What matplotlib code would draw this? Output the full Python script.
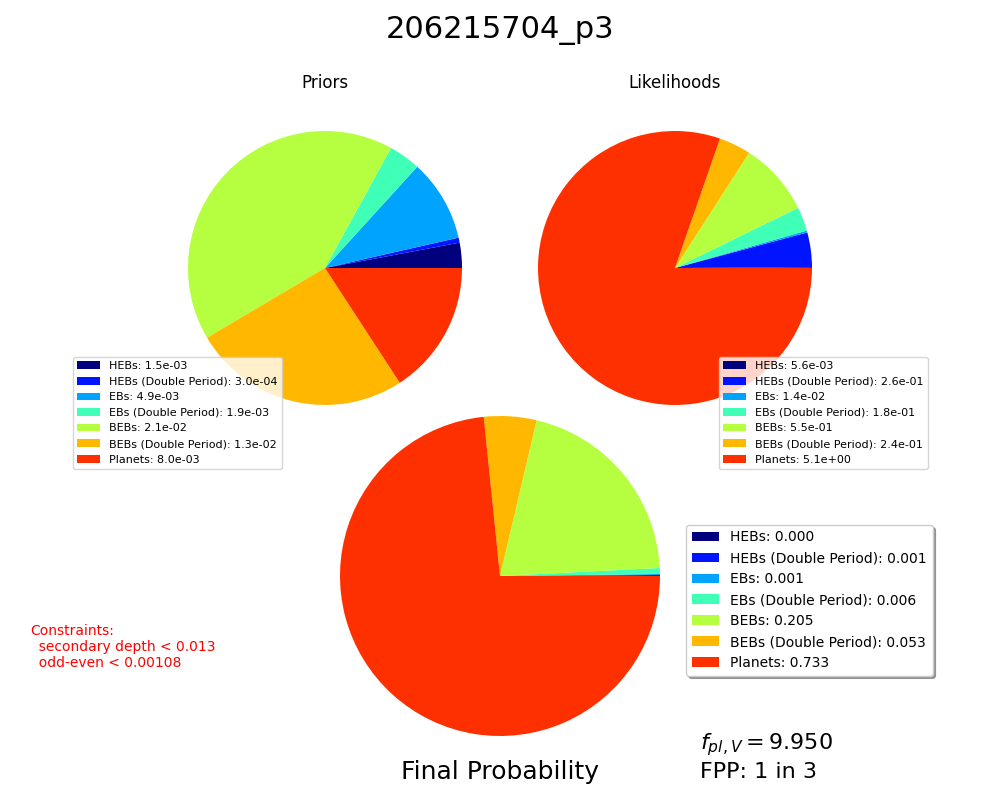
import matplotlib
matplotlib.use('Agg')
import matplotlib.pyplot as plt

TITLE = '206215704_p3'

models = ['HEBs', 'HEBs (Double Period)', 'EBs', 'EBs (Double Period)',
          'BEBs', 'BEBs (Double Period)', 'Planets']
colors = ['#00007f', '#0014ff', '#00a4ff', '#40ffb6', '#b6ff40', '#ffb700', '#ff3000']

priors = [1.5e-3, 3.0e-4, 4.9e-3, 1.9e-3, 2.1e-2, 1.3e-2, 8.0e-3]
lhoods = [5.6e-3, 2.6e-1, 1.4e-2, 1.8e-1, 5.5e-1, 2.4e-1, 5.1e+00]
probs = [0.000, 0.001, 0.001, 0.006, 0.205, 0.053, 0.733]

fpl = 9.950
fpp_inv = 3
constraints = ['secondary depth < 0.013', 'odd-even < 0.00108']

W, H = 1000., 800.


def pie_axes(fig, cx, cy, r):
    # square axes so that a unit pie has radius r pixels (pie limits are +-1.25)
    side = 2.5 * r
    return fig.add_axes([(cx - side / 2) / W, (H - cy - side / 2) / H, side / W, side / H])


fig = plt.figure(figsize=(10, 8), dpi=100)
fig.suptitle(TITLE, fontsize=22, y=0.98)

# priors
ax1 = pie_axes(fig, 325, 268, 137)
ax1.pie(priors, colors=colors)
ax1.set_title('Priors')
ax1.legend(['%s: %.1e' % (m, v) for m, v in zip(models, priors)], fontsize=8, borderaxespad=0,
           loc='upper left', bbox_to_anchor=(0.073, 0.554), bbox_transform=fig.transFigure)

# likelihoods
ax2 = pie_axes(fig, 675, 268, 137)
ax2.pie(lhoods, colors=colors)
ax2.set_title('Likelihoods')
ax2.legend(['%s: %.1e' % (m, v) for m, v in zip(models, lhoods)], fontsize=8, borderaxespad=0,
           loc='upper left', bbox_to_anchor=(0.719, 0.554), bbox_transform=fig.transFigure)

# final probability
ax3 = pie_axes(fig, 500, 576, 160)
ax3.pie(probs, colors=colors)
ax3.legend(['%s: %.3f' % (m, v) for m, v in zip(models, probs)], fontsize=10, shadow=True,
           borderaxespad=0, loc='upper left', bbox_to_anchor=(0.686, 0.344),
           bbox_transform=fig.transFigure)
fig.text(0.5, 0.035, 'Final Probability', fontsize=18, ha='center', va='center')

fig.text(0.03, 0.191, 'Constraints:\n' + '\n'.join('  ' + c for c in constraints),
         color='red', fontsize=10, ha='left', va='center')

fig.text(0.70, 0.069, r'$f_{pl,V} = %.3f$' % fpl, fontsize=16, ha='left', va='center')
fig.text(0.70, 0.035, 'FPP: 1 in %d' % fpp_inv, fontsize=16, ha='left', va='center')

fig.savefig('out.png', dpi=100)
